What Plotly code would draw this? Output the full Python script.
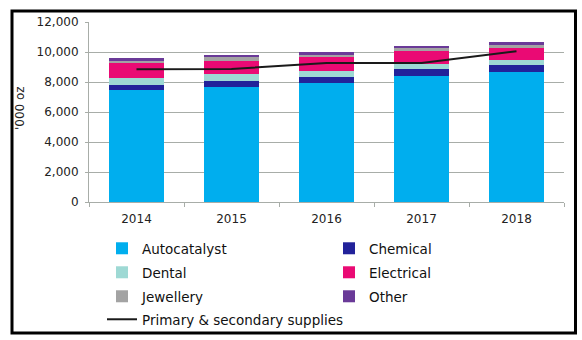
import plotly.graph_objects as go

years = ["2014", "2015", "2016", "2017", "2018"]
autocatalyst = [7470, 7690, 7910, 8400, 8670]
chemical = [330, 380, 440, 470, 450]
dental = [450, 450, 400, 330, 350]
electrical = [1000, 910, 930, 890, 820]
jewellery = [200, 270, 160, 200, 230]
other = [120, 110, 130, 130, 120]
supplies = [8850, 8870, 9270, 9270, 10050]

series = [
    ("Autocatalyst", autocatalyst, "#00AEEE", "legend"),
    ("Chemical", chemical, "#22229A", "legend"),
    ("Dental", dental, "#9ED9D4", "legend2"),
    ("Electrical", electrical, "#EA0A74", "legend2"),
    ("Jewellery", jewellery, "#A3A3A3", "legend3"),
    ("Other", other, "#6A3A98", "legend3"),
]

fig = go.Figure()
for name, vals, col, lg in series:
    fig.add_trace(go.Bar(x=years, y=vals, name=name, marker=dict(color=col, line=dict(width=0)),
                         width=0.58, legend=lg))
fig.add_trace(go.Scatter(x=years, y=supplies, name="Primary & secondary supplies",
                         mode="lines", line=dict(color="#1a1a1a", width=2), legend="legend4"))

L, R, T, B = 89, 564, 22, 202
W, H = 582, 340
pw, ph = R - L, B - T

def px(x):
    return (x - L) / pw

def py(y):
    return (B - y) / ph

fig.add_shape(type="rect", xref="paper", yref="paper",
              x0=px(12), x1=px(575.5), y0=py(11), y1=py(333),
              line=dict(color="black", width=3), fillcolor="rgba(0,0,0,0)")

fig.add_annotation(text="'000 oz", xref="paper", yref="paper", x=px(20), y=py(108),
                   textangle=-90, showarrow=False, xanchor="center", yanchor="middle",
                   font=dict(size=12, color="#222", family="DejaVu Sans"))

def legend_at(top, ew=182):
    return dict(orientation="h", x=px(102), y=py(top), xanchor="left", yanchor="top",
                traceorder="normal", entrywidth=ew, entrywidthmode="pixels",
                font=dict(size=13.5, color="#111", family="DejaVu Sans"),
                bgcolor="rgba(0,0,0,0)")

fig.update_layout(
    width=W, height=H,
    margin=dict(l=L, r=W - R, t=T, b=H - B, autoexpand=False),
    barmode="stack",
    bargap=0.42,
    plot_bgcolor="white", paper_bgcolor="white",
    font=dict(family="DejaVu Sans", size=12, color="#222"),
    showlegend=True,
    legend=legend_at(233),
    legend2=legend_at(257),
    legend3=legend_at(281),
    legend4=legend_at(304, 300),
    xaxis=dict(showline=True, linecolor="#A8ADA8", linewidth=1, ticks="outside",
               tickson="boundaries", ticklen=4, tickcolor="#A8ADA8", automargin=False,
               ticklabelstandoff=6,
               tickfont=dict(size=12, color="#222")),
    yaxis=dict(range=[0, 12000], dtick=2000, tickformat=",", showgrid=True, automargin=False,
               gridcolor="#A8ADA8", gridwidth=1, showline=True, linecolor="#A8ADA8",
               ticks="outside", ticklen=3, tickcolor="#A8ADA8", ticklabelstandoff=4,
               tickfont=dict(size=12, color="#222")),
)

fig.write_html("out.html")
